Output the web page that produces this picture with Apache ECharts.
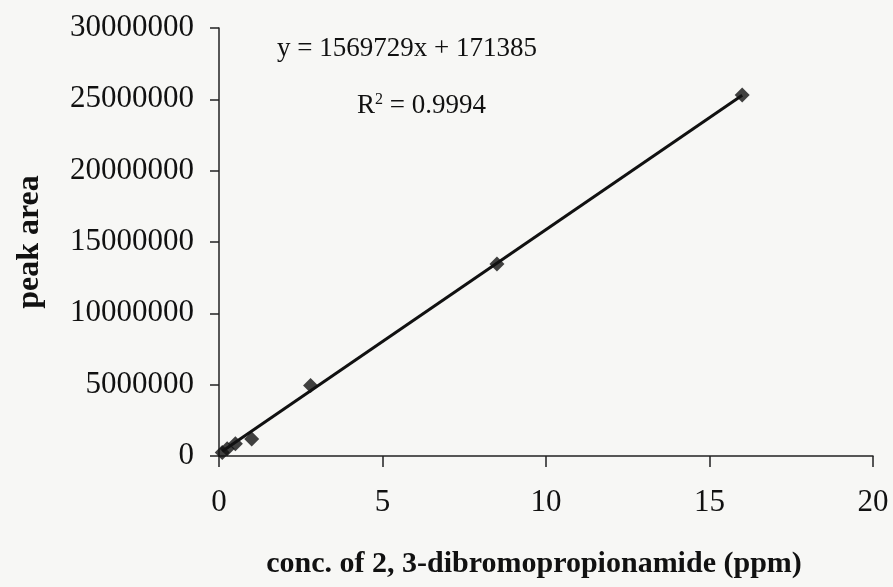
<!DOCTYPE html>
<html>
<head>
<meta charset="utf-8">
<script src="https://cdn.jsdelivr.net/npm/echarts@6/dist/echarts.min.js"></script>
<style>
html,body{margin:0;padding:0;background:#f7f7f5;}
#c{width:893px;height:587px;}
</style>
</head>
<body>
<div id="c"></div>
<script>
// Data
var concPpm = [0.1, 0.25, 0.5, 1, 2.8, 8.5, 16];
var peakArea = [250000, 500000, 850000, 1200000, 4950000, 13450000, 25300000];
var trendX = [0.1, 16];
var trendY = [328358, 25287049];
var xTicks = [0, 5, 10, 15, 20];
var yTicks = [0, 5000000, 10000000, 15000000, 20000000, 25000000, 30000000];
var equationText = 'y = 1569729x + 171385';
var r2Value = '0.9994';
var xTitle = 'conc. of 2, 3-dibromopropionamide (ppm)';
var yTitle = 'peak area';

var points = concPpm.map(function (x, i) { return [x, peakArea[i]]; });
var trend = trendX.map(function (x, i) { return [x, trendY[i]]; });

var FONT = '"Liberation Serif", "Times New Roman", serif';
var chart = echarts.init(document.getElementById('c'), null, {renderer: 'canvas'});
chart.setOption({
  backgroundColor: '#f7f7f5',
  animation: false,
  grid: {left: 219, right: 20, top: 28, bottom: 131, containLabel: false},
  xAxis: {
    type: 'value', min: xTicks[0], max: xTicks[xTicks.length - 1], interval: 5,
    axisLine: {onZero: false, lineStyle: {color: '#222', width: 1.5}},
    axisTick: {inside: false, length: 11, lineStyle: {color: '#222', width: 1.5}},
    axisLabel: {color: '#111', fontFamily: FONT, fontSize: 31, margin: 31},
    splitLine: {show: false},
    name: xTitle, nameLocation: 'middle', nameGap: 93,
    nameTextStyle: {color: '#111', fontFamily: FONT, fontSize: 30, fontWeight: 'bold', padding: [0, 24, 0, 0]}
  },
  yAxis: {
    type: 'value', min: yTicks[0], max: yTicks[yTicks.length - 1], interval: 5000000,
    axisLine: {show: true, lineStyle: {color: '#222', width: 1.5}},
    axisTick: {show: true, inside: false, length: 9, lineStyle: {color: '#222', width: 1.5}},
    axisLabel: {color: '#111', fontFamily: FONT, fontSize: 31, margin: 25,
      formatter: function (v) { return String(v); }},
    splitLine: {show: false},
    name: yTitle, nameLocation: 'middle', nameGap: 173, nameRotate: 90,
    nameTextStyle: {color: '#111', fontFamily: FONT, fontSize: 32, fontWeight: 'bold'}
  },
  series: [
    {
      type: 'line', data: trend, showSymbol: false, symbol: 'none',
      lineStyle: {color: '#111', width: 3}, z: 2
    },
    {
      type: 'scatter', data: points, symbol: 'diamond', symbolSize: 15,
      itemStyle: {color: '#111'}, z: 3
    }
  ],
  graphic: [
    {type: 'text', left: 277, top: 35,
      style: {text: equationText, font: '27px ' + FONT, fill: '#111'}},
    {type: 'text', left: 357, top: 92,
      style: {text: '{r|R}{s|2}{r| = ' + r2Value + '}',
        rich: {
          r: {fontFamily: FONT, fontSize: 27, fill: '#111', color: '#111'},
          s: {fontFamily: FONT, fontSize: 16, fill: '#111', color: '#111', verticalAlign: 'top', padding: [0, 0, 12, 0]}
        }}}
  ]
});
</script>
</body>
</html>
